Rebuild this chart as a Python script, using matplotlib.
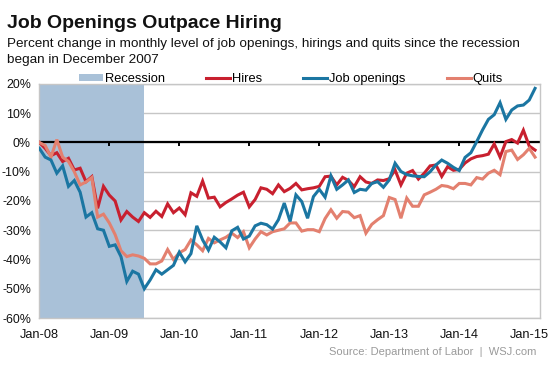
import numpy as np
import matplotlib
matplotlib.use('Agg')
import matplotlib.pyplot as plt
from matplotlib.patches import Patch
from matplotlib.lines import Line2D

plt.rcParams['font.family'] = ['Liberation Sans', 'DejaVu Sans']

# monthly % change since Dec 2007 (index 0 = first month shown)
hires = [0, -2, -4.5, -3.5, -6.5, -5.4, -9.4, -8.8, -13.4, -11.7,
         -22.5, -15, -18, -20, -26.5, -23.6, -25.5, -27, -24, -25.6,
         -23.5, -25.3, -21, -24, -22.4, -24.7, -17.2, -18.4, -13.2, -19,
         -18.7, -22, -20.5, -19.3, -18, -17, -22, -19.5, -15.5, -16,
         -17.5, -14.5, -16.8, -15.7, -14, -16.2, -15.8, -15.5, -15, -11.7,
         -11.5, -14.5, -11.9, -13, -15.1, -11.7, -13.5, -14, -12.8, -13,
         -12.4, -9.4, -14.5, -10.5, -9.6, -12.5, -10.5, -8, -7.7, -11.6,
         -8.3, -9.5, -9.2, -7, -5.6, -4.8, -4.5, -4, -0.5, -5,
         0.3, 1, -0.2, 4.2, -1.2, -2.6]

openings = [-2, -5, -6, -10.5, -8, -15, -13, -17, -25.5, -24,
            -29.5, -30, -35.5, -35, -39, -47.5, -44, -45, -50, -47,
            -43.5, -45, -43.5, -42, -37.5, -40.8, -38, -28.5, -33.3, -36.8,
            -32.4, -34, -36, -30.2, -29, -33, -32, -28.5, -27.6, -28.1,
            -29.6, -26.4, -20.7, -27, -17.9, -20.2, -25.9, -18.5, -16, -18.7,
            -11.4, -16, -14.5, -12.8, -17.1, -16, -16.3, -14, -13.4, -15.3,
            -12.8, -7.1, -9.9, -11, -11.4, -11.6, -11.7, -10, -7.7, -6,
            -7.1, -8.5, -9.6, -5.1, -3.5, 0.3, 4.3, 7.9, 9.5, 13.6,
            7.9, 11.1, 12.5, 12.8, 14.5, 18.5]

quits = [0, -1, -5, 1, -5, -6.5, -10, -14.5, -13.5, -12,
         -25.5, -24.5, -27.5, -31.5, -37, -39, -38.4, -38.8, -39.6, -41.5,
         -41.5, -40.5, -36.6, -40, -37.7, -36.6, -33.3, -35, -37, -32.8,
         -34.3, -33.3, -32.4, -31, -32.5, -30.5, -36, -33, -30.5, -31.6,
         -30.5, -30, -29.5, -27.5, -27.5, -30.3, -29.8, -29.8, -30.5, -26,
         -23, -25.9, -23.6, -23.8, -25.7, -25, -31, -28, -26.4, -25,
         -18.8, -19.5, -25.9, -19, -21.8, -21.8, -17.9, -17, -16, -14.7,
         -15, -15.8, -14, -14, -14.5, -12, -12.5, -10.5, -9.5, -11,
         -3.1, -2.6, -5.8, -4.2, -2, -5]

recession = (0, 18)  # Dec 2007 - Jun 2009, in months
tick_pos = [0, 12, 24, 36, 48, 60, 72, 84]
tick_labels = ['Jan-08', 'Jan-09', 'Jan-10', 'Jan-11', 'Jan-12', 'Jan-13', 'Jan-14', 'Jan-15']
y_ticks = [20, 10, 0, -10, -20, -30, -40, -50, -60]

c_hires = '#c8202f'
c_open = '#1b76a2'
c_quits = '#e3806f'
c_rec = '#a9c1d8'

fig = plt.figure(figsize=(5.53, 3.69), dpi=100)
ax = fig.add_axes([0.0711, 0.1382, 0.9054, 0.6342])

x = np.arange(len(hires))
ax.axvspan(recession[0], recession[1], color=c_rec, zorder=1, lw=0)
ax.axhline(0, color='black', lw=1.6, zorder=2)
ax.vlines(tick_pos, -1.2, 0, color='black', lw=1.4, zorder=2)
ax.plot(x, hires, color=c_hires, lw=2.2, zorder=3, solid_joinstyle='miter')
ax.plot(x, openings, color=c_open, lw=2.2, zorder=4, solid_joinstyle='miter')
ax.plot(x, quits, color=c_quits, lw=2.2, zorder=3, solid_joinstyle='miter')

ax.set_xlim(0, 85.85)
ax.set_ylim(-60, 20)
ax.set_yticks(y_ticks)
ax.set_yticklabels(['%d%%' % v for v in y_ticks])
ax.set_xticks(tick_pos)
ax.set_xticklabels(tick_labels)
ax.tick_params(axis='both', length=0, colors='#111111')
ax.tick_params(axis='x', pad=8, labelsize=9.2)
ax.tick_params(axis='y', pad=6, labelsize=8.9)
ax.yaxis.grid(True, color='#c6c6c6', lw=1)
ax.set_axisbelow(True)
for s in ax.spines.values():
    s.set_color('#c6c6c6')
    s.set_linewidth(1)

fig.text(7 / 553, 1 - 28 / 369, 'Job Openings Outpace Hiring', fontsize=14,
         fontweight='bold', va='baseline', ha='left', color='#111111')
fig.text(7 / 553, 1 - 47 / 369,
         'Percent change in monthly level of job openings, hirings and quits since the recession',
         fontsize=9.7, va='baseline', ha='left', color='#111111')
fig.text(7 / 553, 1 - 63 / 369, 'began in December 2007',
         fontsize=9.7, va='baseline', ha='left', color='#111111')
fig.text(536 / 553, 1 - 355 / 369, 'Source: Department of Labor  |  WSJ.com',
         fontsize=8, va='baseline', ha='right', color='#9a9a9a')

handles = [Patch(facecolor=c_rec, edgecolor='none'),
           Line2D([], [], color=c_hires, lw=2.2),
           Line2D([], [], color=c_open, lw=2.2),
           Line2D([], [], color=c_quits, lw=2.2)]
fig.legend(handles, ['Recession', 'Hires', 'Job openings', 'Quits'],
           loc='center', bbox_to_anchor=(291 / 553, 1 - 79 / 369), ncol=4,
           frameon=False, fontsize=9.3, handlelength=1.85, handleheight=0.55,
           handletextpad=0.15, columnspacing=3.2, borderpad=0, borderaxespad=0)

fig.savefig('out.png', dpi=100)
